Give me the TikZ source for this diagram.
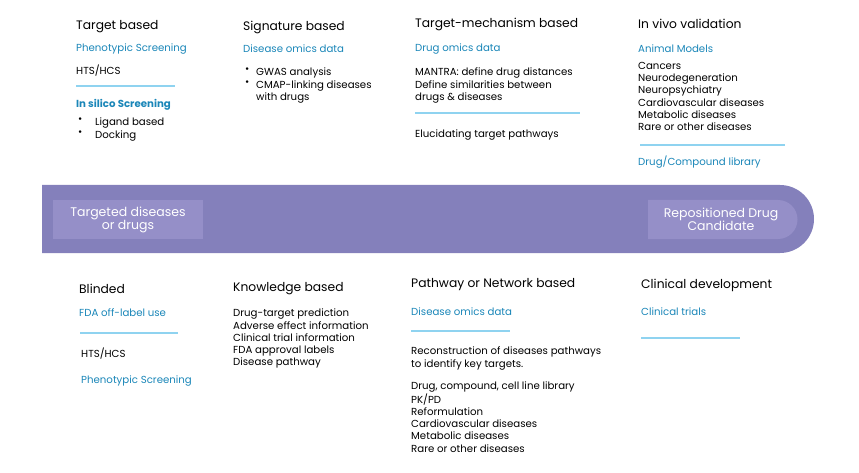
\documentclass[tikz,border=0pt]{standalone}
\usepackage{fontspec}
\setmainfont{Poppins}
\definecolor{band}{HTML}{8480BB}
\definecolor{bandin}{HTML}{958FC8}
\definecolor{tblue}{HTML}{1A86B8}
\definecolor{sep}{HTML}{8FD3F0}
\begin{document}
\begin{tikzpicture}[x=1pt,y=-1pt,
  head/.style={anchor=west,inner sep=0pt,font=\fontsize{12.3}{13}\selectfont},
  sub/.style={anchor=west,inner sep=0pt,text=tblue,font=\fontsize{10.2}{12}\selectfont},
  body/.style={anchor=north west,inner sep=0pt,align=left,font=\fontsize{10.2}{12.2}\selectfont},
  sepline/.style={sep,line width=2pt}]
\useasboundingbox (0,0) rectangle (859,473);
% band
\fill[band] (42,185) -- (780,185) arc (-90:90:34) -- (42,253) -- cycle;
\fill[bandin] (53,200) rectangle (203,239);
\fill[bandin] (648,200) -- (778,200) arc (-90:90:19.5) -- (648,239) -- cycle;
\node[align=center,text=white,font=\fontsize{12.5}{13}\selectfont] (start) at (128,219.5) {Targeted diseases\\or drugs};
\node[align=center,text=white,font=\fontsize{12.5}{13}\selectfont] (goal) at (721,219.5) {Repositioned Drug\\Candidate};
% top row
\node[head] (tb) at (76,27) {Target based};
\node[sub] (tb1) at (76,49) {Phenotypic Screening};
\node[body,anchor=west] (tb2) at (76,71) {HTS/HCS};
\draw[sepline] (76,86) -- (175,86);
\node[sub,font=\bfseries\fontsize{10.2}{12}\selectfont] (tb3) at (76,105) {In silico Screening};
\node[body] (tb4) at (78,118) {•\\•};
\node[body] (tb5) at (95,118) {Ligand based\\Docking};
\node[head] (sb) at (243,27) {Signature based};
\node[sub] (sb1) at (243,49) {Disease omics data};
\node[body] (sb2) at (245,68) {•\\•};
\node[body] (sb3) at (256,68) {GWAS analysis\\CMAP-linking diseases\\with drugs};
\node[head] (tm) at (415,24) {Target-mechanism based};
\node[sub] (tm1) at (415,49) {Drug omics data};
\node[body] (tm2) at (415,68) {MANTRA: define drug distances\\Define similarities between\\drugs \& diseases};
\draw[sepline] (415,113) -- (580,113);
\node[body,anchor=west] (tm3) at (415,135) {Elucidating target pathways};
\node[head] (iv) at (638,24) {In vivo validation};
\node[sub] (iv1) at (638,49) {Animal Models};
\node[body] (iv2) at (638,62) {Cancers\\Neurodegeneration\\Neuropsychiatry\\Cardiovascular diseases\\Metabolic diseases\\Rare or other diseases};
\draw[sepline] (640,145) -- (785,145);
\node[sub] (iv3) at (638,162) {Drug/Compound library};
% bottom row
\node[head] (bl) at (79,289) {Blinded};
\node[sub] (bl1) at (79,313) {FDA off-label use};
\draw[sepline] (80,333) -- (178,333);
\node[body,anchor=west] (bl2) at (81,354) {HTS/HCS};
\node[sub] (bl3) at (81,381) {Phenotypic Screening};
\node[head] (kb) at (233,289) {Knowledge based};
\node[body] (kb1) at (233,309) {Drug-target prediction\\Adverse effect information\\Clinical trial information\\FDA approval labels\\Disease pathway};
\node[head] (pn) at (411,285) {Pathway or Network based};
\node[sub] (pn1) at (411,312) {Disease omics data};
\draw[sepline] (411,331) -- (510,331);
\node[body] (pn2) at (411,347) {Reconstruction of diseases pathways\\to identify key targets.};
\node[body] (pn3) at (411,382) {Drug, compound, cell line library\\PK/PD\\Reformulation\\Cardiovascular diseases\\Metabolic diseases\\Rare or other diseases};
\node[head] (cd) at (641,285) {Clinical development};
\node[sub] (cd1) at (641,312) {Clinical trials};
\draw[sepline] (641,338) -- (740,338);
\end{tikzpicture}
\end{document}
